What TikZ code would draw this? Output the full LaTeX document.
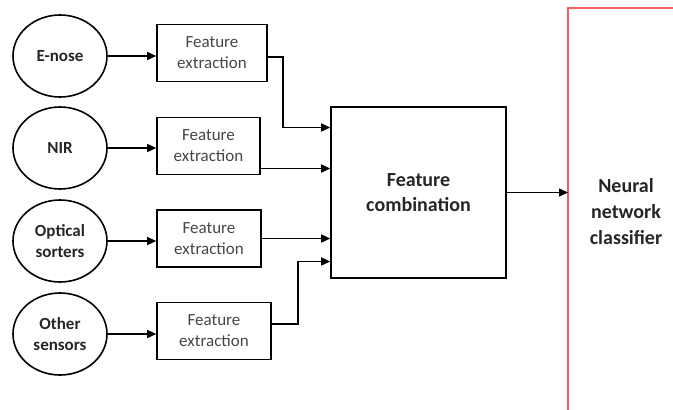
\documentclass[tikz,border=0pt]{standalone}
\usepackage{fontspec}
\setmainfont{Carlito}
\usepackage{xcolor}
\usetikzlibrary{arrows.meta, positioning, shapes.geometric}
\definecolor{nnred}{RGB}{240,95,95}
\definecolor{fetext}{RGB}{70,70,70}
\tikzset{
    x=1pt, y=-1pt, % pixel-like units, y downwards
    sensor/.style={ellipse, draw, line width=1.6pt, inner sep=0pt,
        minimum width=94pt, minimum height=82pt, align=center,
        font=\fontsize{17}{21}\selectfont\bfseries, text=black!85},
    febox/.style={rectangle, draw, line width=1.6pt, align=center,
        minimum height=57pt, font=\fontsize{17}{21}\selectfont, text=fetext},
    combbox/.style={rectangle, draw, line width=1.6pt, align=center,
        minimum width=175pt, minimum height=171pt,
        font=\fontsize{20}{25}\selectfont\bfseries, text=black!85},
}
\tikzstyle{arrow} = [line width=1.5pt, -{Triangle[length=9pt,width=8pt]}]

\begin{document}
\begin{tikzpicture}
    \useasboundingbox (0,0) rectangle (673,410);

    % sensors
    \node[sensor] (enose) at (60,56) {E-nose};
    \node[sensor] (nir) at (60,148) {NIR};
    \node[sensor] (optic) at (60,241) {Optical\\sorters};
    \node[sensor] (other) at (60,334) {Other\\sensors};

    % feature extraction
    \node[febox, minimum width=110pt] (fe1) at (212,53) {Feature\\extraction};
    \node[febox, minimum width=103pt] (fe2) at (208.5,146) {Feature\\extraction};
    \node[febox, minimum width=104pt] (fe3) at (209,238.5) {Feature\\extraction};
    \node[febox, minimum width=114pt] (fe4) at (214,331) {Feature\\extraction};

    \node[combbox] (comb) at (418.5,192.5) {Feature\\combination};

    % classifier
    \draw[nnred, line width=1.5pt] (568,410) -- (568,8) -- (673,8);
    \coordinate (nnin) at (568,192.5);
    \node[align=center, font=\fontsize{20}{26}\selectfont\bfseries, text=black!85]
        (nn) at (626,212) {Neural\\network\\classifier};

    % inputs of the combination box
    \coordinate (in1) at ([yshift=65pt]comb.west);
    \coordinate (in2) at ([yshift=24pt]comb.west);
    \coordinate (in3) at ([yshift=-46pt]comb.west);
    \coordinate (in4) at ([yshift=-69pt]comb.west);

    \draw[arrow] (enose.east) -- (enose.east -| fe1.west);
    \draw[arrow] (nir.east) -- (nir.east -| fe2.west);
    \draw[arrow] (optic.east) -- (optic.east -| fe3.west);
    \draw[arrow] (other.east) -- (other.east -| fe4.west);

    \draw[arrow] ([yshift=-4pt]fe1.east) -- ++(15,0) |- (in1);
    \draw[arrow] (fe2.east |- in2) -- (in2);
    \draw[arrow] (fe3.east |- in3) -- (in3);
    \draw[arrow] ([yshift=7pt]fe4.east) -- ++(26,0) |- (in4);

    \draw[arrow] (comb.east) -- (nnin);
\end{tikzpicture}
\end{document}
